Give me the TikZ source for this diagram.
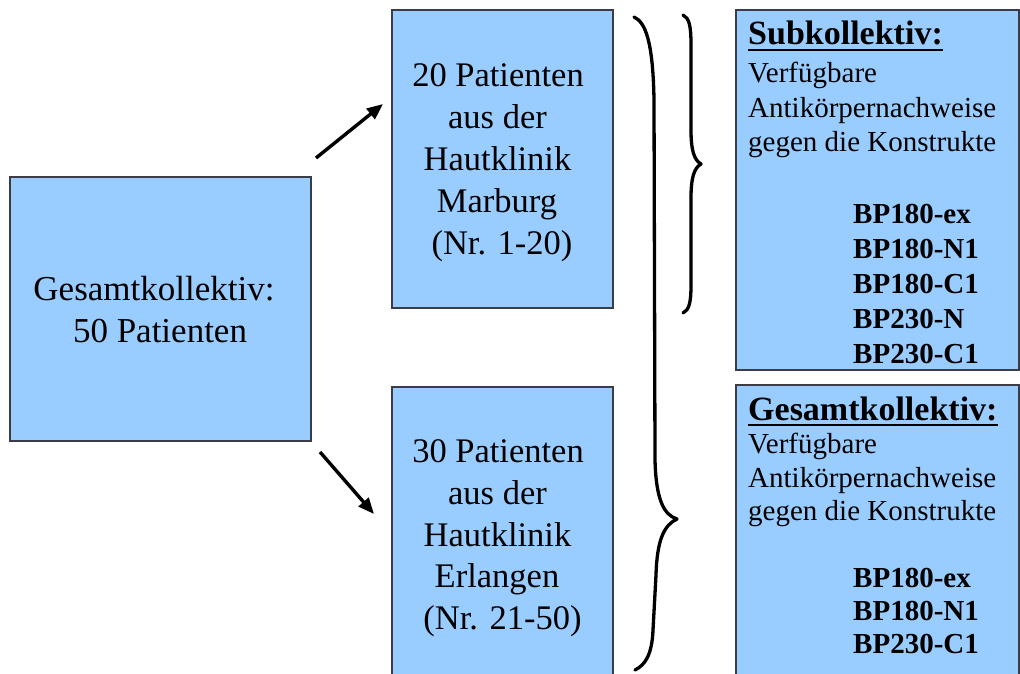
\documentclass[tikz,border=0pt]{standalone}
\usepackage{fontspec}
\setmainfont{Liberation Serif}
\usetikzlibrary{arrows.meta}
\definecolor{boxfill}{RGB}{153,204,255}
\definecolor{boxline}{RGB}{60,60,70}
\begin{document}
\begin{tikzpicture}[x=1pt,y=-1pt,
  box/.style={draw=boxline, fill=boxfill, line width=1.2pt, inner sep=0pt},
  lefttxt/.style={font=\fontsize{35}{42}\selectfont, anchor=base, inner sep=0pt},
  midtxt/.style={font=\fontsize{34.5}{41}\selectfont, anchor=base, inner sep=0pt},
  headtxt/.style={font=\bfseries\fontsize{34}{40}\selectfont, anchor=base west, inner sep=0pt},
  bodytxt/.style={font=\fontsize{29}{35}\selectfont, anchor=base west, inner sep=0pt},
  bptxt/.style={font=\bfseries\fontsize{29}{35}\selectfont, anchor=base west, inner sep=0pt},
  conn/.style={line width=3.4pt, -{Triangle[length=16pt,width=13pt]}},
  uline/.style={line width=2.2pt},
  brace/.style={line width=3.3pt, line cap=round, line join=round}]
\useasboundingbox (0,0) rectangle (1020,674);
\clip (0,0) rectangle (1020,674);
\fill[white] (0,0) rectangle (1020,674);

% boxes
\node[box, minimum width=301pt, minimum height=264pt] (left) at (160.5,309) {};
\node[box, minimum width=221pt, minimum height=298pt] (mtop) at (502.5,159) {};
\node[box, minimum width=221pt, minimum height=297pt] (mbot) at (502.5,535.5) {};
\node[box, minimum width=283pt, minimum height=360pt] (rtop) at (877.5,190) {};
\node[box, minimum width=283pt, minimum height=305pt] (rbot) at (877.5,537.5) {};

% left text
\node[lefttxt] (l1) at (154,300) {Gesamtkollektiv:};
\node[lefttxt] (l2) at (160,342) {50 Patienten};

% middle top text
\node[midtxt] (a1) at (498,87) {20 Patienten};
\node[midtxt] (a2) at (497.5,129) {aus der};
\node[midtxt] (a3) at (497.5,171) {Hautklinik};
\node[midtxt] (a4) at (497,212) {Marburg};
\node[midtxt] (a5) at (502,254) {(Nr. 1-20)};

% middle bottom text
\node[midtxt] (b1) at (498,462) {30 Patienten};
\node[midtxt] (b2) at (497.5,504) {aus der};
\node[midtxt] (b3) at (497.5,546) {Hautklinik};
\node[midtxt] (b4) at (497,587) {Erlangen};
\node[midtxt] (b5) at (502.5,629) {(Nr. 21-50)};

% right top text
\node[headtxt] (s0) at (748,45) {Subkollektiv:};
\draw[uline] ([yshift=-5pt]s0.base west) -- ([yshift=-5pt]s0.base east);
\node[bodytxt] (s1) at (748,83) {Verfügbare};
\node[bodytxt] (s2) at (748,118) {Antikörpernachweise};
\node[bodytxt] (s3) at (748,152) {gegen die Konstrukte};
\node[bptxt] (s4) at (853,223) {BP180-ex};
\node[bptxt] (s5) at (853,258) {BP180-N1};
\node[bptxt] (s6) at (853,293) {BP180-C1};
\node[bptxt] (s7) at (853,328) {BP230-N};
\node[bptxt] (s8) at (853,363) {BP230-C1};

% right bottom text
\node[headtxt] (g0) at (748,420) {Gesamtkollektiv:};
\draw[uline] ([yshift=-5pt]g0.base west) -- ([yshift=-5pt]g0.base east);
\node[bodytxt] (g1) at (748,453) {Verfügbare};
\node[bodytxt] (g2) at (748,487) {Antikörpernachweise};
\node[bodytxt] (g3) at (748,520) {gegen die Konstrukte};
\node[bptxt] (g4) at (853,587) {BP180-ex};
\node[bptxt] (g5) at (853,620) {BP180-N1};
\node[bptxt] (g6) at (853,653) {BP230-C1};

% arrows
\coordinate (at1) at (316,158);
\coordinate (ah1) at (383,104);
\coordinate (at2) at (320,452);
\coordinate (ah2) at (374,514);
\draw[conn] (at1) -- (ah1);
\draw[conn] (at2) -- (ah2);

% big brace
\draw[brace] (634,17) .. controls (645,22) and (653,40) .. (654,100)
  -- (655,460) .. controls (656,500) and (664,515) .. (677,519)
  .. controls (664,525) and (657,540) .. (656,575)
  -- (653,630) .. controls (652,655) and (645,665) .. (635,670);

% small brace
\draw[brace] (683,15) .. controls (689,18) and (691,25) .. (691,45)
  -- (691,130) .. controls (691,150) and (694,160) .. (701,164)
  .. controls (694,168) and (691,178) .. (691,198)
  -- (691,285) .. controls (691,303) and (689,310) .. (683,313);
\end{tikzpicture}
\end{document}
